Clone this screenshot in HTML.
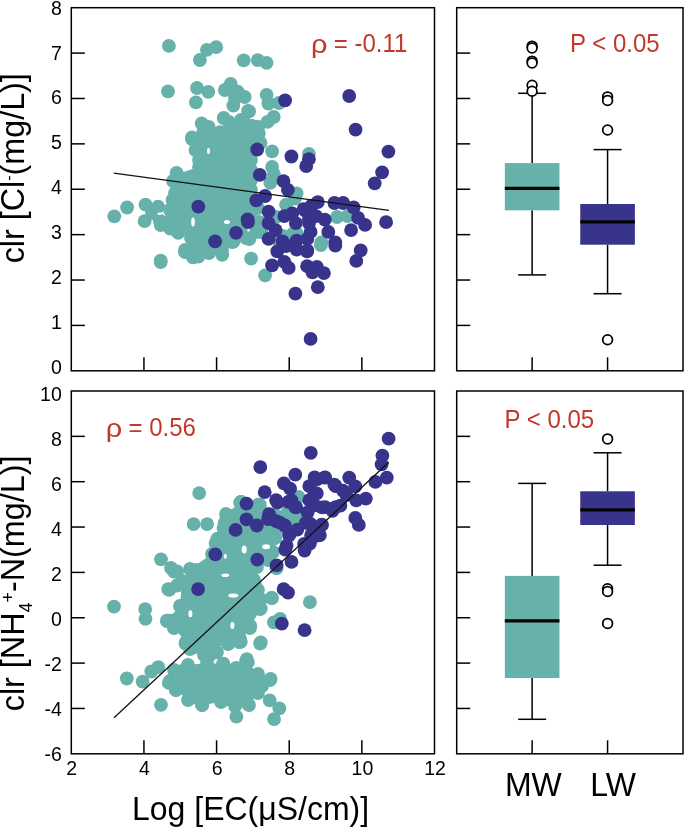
<!DOCTYPE html>
<html><head><meta charset="utf-8"><style>
html,body{margin:0;padding:0;background:#fff;}
body{width:685px;height:828px;overflow:hidden;}
svg{display:block;font-family:"Liberation Sans",sans-serif;will-change:transform;}
</style></head><body>
<svg width="685" height="828" viewBox="0 0 685 828">
<rect width="685" height="828" fill="#fff"/>
<polygon points="192,139 203,133 214,136 222,133 229,122 241,120 248,111 252,126 258,132 253,150 251,160 251,170 251,180 251,190 252,201 250,215 246,238 232,242 222,250 197,248 185,250 191,238 177,230 168,222 177,199 175,193 173,181 177,174 199,167 199,160 195.5,150" fill="#66b1aa"/>
<circle cx="192.0" cy="139.0" r="6.9" fill="#66b1aa"/>
<circle cx="203.0" cy="133.0" r="6.9" fill="#66b1aa"/>
<circle cx="214.0" cy="136.0" r="6.9" fill="#66b1aa"/>
<circle cx="222.0" cy="133.0" r="6.9" fill="#66b1aa"/>
<circle cx="229.0" cy="122.0" r="6.9" fill="#66b1aa"/>
<circle cx="241.0" cy="120.0" r="6.9" fill="#66b1aa"/>
<circle cx="248.0" cy="111.0" r="6.9" fill="#66b1aa"/>
<circle cx="252.0" cy="126.0" r="6.9" fill="#66b1aa"/>
<circle cx="258.0" cy="132.0" r="6.9" fill="#66b1aa"/>
<circle cx="253.0" cy="150.0" r="6.9" fill="#66b1aa"/>
<circle cx="251.0" cy="160.0" r="6.9" fill="#66b1aa"/>
<circle cx="251.0" cy="170.0" r="6.9" fill="#66b1aa"/>
<circle cx="251.0" cy="180.0" r="6.9" fill="#66b1aa"/>
<circle cx="251.0" cy="190.0" r="6.9" fill="#66b1aa"/>
<circle cx="252.0" cy="201.0" r="6.9" fill="#66b1aa"/>
<circle cx="250.0" cy="215.0" r="6.9" fill="#66b1aa"/>
<circle cx="246.0" cy="238.0" r="6.9" fill="#66b1aa"/>
<circle cx="232.0" cy="242.0" r="6.9" fill="#66b1aa"/>
<circle cx="222.0" cy="250.0" r="6.9" fill="#66b1aa"/>
<circle cx="197.0" cy="248.0" r="6.9" fill="#66b1aa"/>
<circle cx="185.0" cy="250.0" r="6.9" fill="#66b1aa"/>
<circle cx="191.0" cy="238.0" r="6.9" fill="#66b1aa"/>
<circle cx="177.0" cy="230.0" r="6.9" fill="#66b1aa"/>
<circle cx="168.0" cy="222.0" r="6.9" fill="#66b1aa"/>
<circle cx="177.0" cy="199.0" r="6.9" fill="#66b1aa"/>
<circle cx="175.0" cy="193.0" r="6.9" fill="#66b1aa"/>
<circle cx="173.0" cy="181.0" r="6.9" fill="#66b1aa"/>
<circle cx="177.0" cy="174.0" r="6.9" fill="#66b1aa"/>
<circle cx="199.0" cy="167.0" r="6.9" fill="#66b1aa"/>
<circle cx="199.0" cy="160.0" r="6.9" fill="#66b1aa"/>
<circle cx="195.5" cy="150.0" r="6.9" fill="#66b1aa"/>
<circle cx="168.9" cy="45.9" r="6.9" fill="#66b1aa"/>
<circle cx="168.0" cy="91.4" r="6.9" fill="#66b1aa"/>
<circle cx="206.9" cy="49.8" r="6.9" fill="#66b1aa"/>
<circle cx="216.2" cy="47.2" r="6.9" fill="#66b1aa"/>
<circle cx="199.9" cy="60.0" r="6.9" fill="#66b1aa"/>
<circle cx="243.7" cy="60.3" r="6.9" fill="#66b1aa"/>
<circle cx="257.8" cy="60.2" r="6.9" fill="#66b1aa"/>
<circle cx="266.6" cy="62.8" r="6.9" fill="#66b1aa"/>
<circle cx="197.0" cy="88.0" r="6.9" fill="#66b1aa"/>
<circle cx="208.3" cy="91.8" r="6.9" fill="#66b1aa"/>
<circle cx="195.9" cy="102.3" r="6.9" fill="#66b1aa"/>
<circle cx="230.7" cy="83.9" r="6.9" fill="#66b1aa"/>
<circle cx="224.9" cy="90.0" r="6.9" fill="#66b1aa"/>
<circle cx="237.7" cy="91.7" r="6.9" fill="#66b1aa"/>
<circle cx="244.7" cy="97.0" r="6.9" fill="#66b1aa"/>
<circle cx="233.3" cy="105.7" r="6.9" fill="#66b1aa"/>
<circle cx="249.1" cy="111.4" r="6.9" fill="#66b1aa"/>
<circle cx="266.6" cy="94.8" r="6.9" fill="#66b1aa"/>
<circle cx="268.4" cy="103.5" r="6.9" fill="#66b1aa"/>
<circle cx="279.0" cy="103.0" r="6.9" fill="#66b1aa"/>
<circle cx="273.7" cy="117.0" r="6.9" fill="#66b1aa"/>
<circle cx="223.7" cy="118.0" r="6.9" fill="#66b1aa"/>
<circle cx="230.7" cy="124.1" r="6.9" fill="#66b1aa"/>
<circle cx="201.7" cy="123.4" r="6.9" fill="#66b1aa"/>
<circle cx="208.7" cy="126.9" r="6.9" fill="#66b1aa"/>
<circle cx="242.9" cy="119.8" r="6.9" fill="#66b1aa"/>
<circle cx="258.2" cy="126.8" r="6.9" fill="#66b1aa"/>
<circle cx="267.5" cy="121.9" r="6.9" fill="#66b1aa"/>
<circle cx="192.0" cy="137.4" r="6.9" fill="#66b1aa"/>
<circle cx="206.1" cy="137.4" r="6.9" fill="#66b1aa"/>
<circle cx="220.1" cy="132.1" r="6.9" fill="#66b1aa"/>
<circle cx="237.6" cy="132.1" r="6.9" fill="#66b1aa"/>
<circle cx="255.1" cy="133.9" r="6.9" fill="#66b1aa"/>
<circle cx="258.8" cy="133.6" r="6.9" fill="#66b1aa"/>
<circle cx="222.0" cy="133.6" r="6.9" fill="#66b1aa"/>
<circle cx="239.5" cy="133.6" r="6.9" fill="#66b1aa"/>
<circle cx="250.0" cy="137.1" r="6.9" fill="#66b1aa"/>
<circle cx="260.5" cy="143.0" r="6.9" fill="#66b1aa"/>
<circle cx="114.3" cy="216.3" r="6.9" fill="#66b1aa"/>
<circle cx="127.1" cy="207.5" r="6.9" fill="#66b1aa"/>
<circle cx="145.5" cy="204.6" r="6.9" fill="#66b1aa"/>
<circle cx="158.1" cy="206.7" r="6.9" fill="#66b1aa"/>
<circle cx="144.6" cy="221.2" r="6.9" fill="#66b1aa"/>
<circle cx="159.8" cy="220.7" r="6.9" fill="#66b1aa"/>
<circle cx="176.5" cy="173.0" r="6.9" fill="#66b1aa"/>
<circle cx="174.7" cy="181.8" r="6.9" fill="#66b1aa"/>
<circle cx="177.3" cy="230.8" r="6.9" fill="#66b1aa"/>
<circle cx="185.2" cy="251.9" r="6.9" fill="#66b1aa"/>
<circle cx="160.7" cy="260.6" r="6.9" fill="#66b1aa"/>
<circle cx="193.1" cy="257.1" r="6.9" fill="#66b1aa"/>
<circle cx="192.2" cy="237.9" r="6.9" fill="#66b1aa"/>
<circle cx="272.1" cy="151.3" r="6.9" fill="#66b1aa"/>
<circle cx="308.9" cy="153.9" r="6.9" fill="#66b1aa"/>
<circle cx="272.1" cy="167.0" r="6.9" fill="#66b1aa"/>
<circle cx="273.8" cy="174.1" r="6.9" fill="#66b1aa"/>
<circle cx="270.3" cy="182.8" r="6.9" fill="#66b1aa"/>
<circle cx="296.6" cy="193.3" r="6.9" fill="#66b1aa"/>
<circle cx="286.1" cy="204.7" r="6.9" fill="#66b1aa"/>
<circle cx="294.9" cy="198.6" r="6.9" fill="#66b1aa"/>
<circle cx="293.1" cy="233.6" r="6.9" fill="#66b1aa"/>
<circle cx="337.0" cy="217.0" r="6.9" fill="#66b1aa"/>
<circle cx="347.6" cy="216.1" r="6.9" fill="#66b1aa"/>
<circle cx="321.3" cy="242.4" r="6.9" fill="#66b1aa"/>
<circle cx="296.8" cy="233.6" r="6.9" fill="#66b1aa"/>
<circle cx="160.7" cy="262.1" r="6.9" fill="#66b1aa"/>
<circle cx="185.2" cy="252.2" r="6.9" fill="#66b1aa"/>
<circle cx="193.1" cy="257.4" r="6.9" fill="#66b1aa"/>
<circle cx="209.8" cy="251.3" r="6.9" fill="#66b1aa"/>
<circle cx="160.7" cy="225.0" r="6.9" fill="#66b1aa"/>
<circle cx="170.3" cy="228.5" r="6.9" fill="#66b1aa"/>
<circle cx="178.2" cy="232.9" r="6.9" fill="#66b1aa"/>
<circle cx="191.4" cy="237.3" r="6.9" fill="#66b1aa"/>
<circle cx="200.1" cy="242.5" r="6.9" fill="#66b1aa"/>
<circle cx="251.1" cy="258.6" r="6.9" fill="#66b1aa"/>
<circle cx="265.1" cy="275.3" r="6.9" fill="#66b1aa"/>
<circle cx="222.2" cy="254.8" r="6.9" fill="#66b1aa"/>
<circle cx="209.0" cy="253.0" r="6.9" fill="#66b1aa"/>
<circle cx="198.5" cy="256.5" r="6.9" fill="#66b1aa"/>
<circle cx="249.3" cy="239.0" r="6.9" fill="#66b1aa"/>
<circle cx="233.5" cy="241.6" r="6.9" fill="#66b1aa"/>
<circle cx="291.4" cy="237.3" r="6.9" fill="#66b1aa"/>
<circle cx="261.6" cy="232.0" r="6.9" fill="#66b1aa"/>
<circle cx="320.9" cy="245.1" r="6.9" fill="#66b1aa"/>
<circle cx="296.8" cy="235.5" r="6.9" fill="#66b1aa"/>
<circle cx="235.0" cy="98.5" r="6.9" fill="#66b1aa"/>
<circle cx="152.0" cy="213.0" r="6.9" fill="#66b1aa"/>
<circle cx="170.0" cy="210.0" r="6.9" fill="#66b1aa"/>
<circle cx="172.5" cy="200.0" r="6.9" fill="#66b1aa"/>
<circle cx="258.0" cy="208.0" r="6.9" fill="#66b1aa"/>
<circle cx="259.0" cy="222.0" r="6.9" fill="#66b1aa"/>
<circle cx="256.0" cy="232.0" r="6.9" fill="#66b1aa"/>
<circle cx="276.0" cy="217.0" r="6.9" fill="#66b1aa"/>
<circle cx="283.0" cy="236.0" r="6.9" fill="#66b1aa"/>
<circle cx="279.0" cy="241.0" r="6.9" fill="#66b1aa"/>
<circle cx="270.0" cy="214.0" r="6.9" fill="#66b1aa"/>
<ellipse cx="159.5" cy="213.8" rx="2.2" ry="1.2" fill="#fff"/>
<ellipse cx="193" cy="222" rx="1.8" ry="4.5" fill="#fff"/>
<ellipse cx="227" cy="222" rx="3" ry="2" fill="#fff"/>
<ellipse cx="208.5" cy="151" rx="1.5" ry="3" fill="#fff"/>
<circle cx="285.1" cy="100.3" r="6.9" fill="#38348c"/>
<circle cx="349.2" cy="96.0" r="6.9" fill="#38348c"/>
<circle cx="355.6" cy="129.6" r="6.9" fill="#38348c"/>
<circle cx="388.4" cy="151.6" r="6.9" fill="#38348c"/>
<circle cx="382.1" cy="172.3" r="6.9" fill="#38348c"/>
<circle cx="374.7" cy="183.3" r="6.9" fill="#38348c"/>
<circle cx="257.2" cy="149.5" r="6.9" fill="#38348c"/>
<circle cx="291.4" cy="156.5" r="6.9" fill="#38348c"/>
<circle cx="308.9" cy="159.2" r="6.9" fill="#38348c"/>
<circle cx="306.2" cy="166.2" r="6.9" fill="#38348c"/>
<circle cx="259.8" cy="174.9" r="6.9" fill="#38348c"/>
<circle cx="283.5" cy="181.1" r="6.9" fill="#38348c"/>
<circle cx="287.9" cy="189.8" r="6.9" fill="#38348c"/>
<circle cx="265.1" cy="196.0" r="6.9" fill="#38348c"/>
<circle cx="256.3" cy="200.3" r="6.9" fill="#38348c"/>
<circle cx="198.3" cy="206.7" r="6.9" fill="#38348c"/>
<circle cx="268.6" cy="211.7" r="6.9" fill="#38348c"/>
<circle cx="247.6" cy="219.5" r="6.9" fill="#38348c"/>
<circle cx="248.0" cy="222.0" r="6.9" fill="#38348c"/>
<circle cx="284.3" cy="216.1" r="6.9" fill="#38348c"/>
<circle cx="292.2" cy="213.5" r="6.9" fill="#38348c"/>
<circle cx="303.6" cy="209.1" r="6.9" fill="#38348c"/>
<circle cx="311.5" cy="205.6" r="6.9" fill="#38348c"/>
<circle cx="268.6" cy="223.1" r="6.9" fill="#38348c"/>
<circle cx="275.6" cy="230.1" r="6.9" fill="#38348c"/>
<circle cx="295.8" cy="223.1" r="6.9" fill="#38348c"/>
<circle cx="308.9" cy="219.6" r="6.9" fill="#38348c"/>
<circle cx="310.6" cy="231.9" r="6.9" fill="#38348c"/>
<circle cx="236.0" cy="232.8" r="6.9" fill="#38348c"/>
<circle cx="215.1" cy="241.3" r="6.9" fill="#38348c"/>
<circle cx="268.6" cy="238.9" r="6.9" fill="#38348c"/>
<circle cx="282.6" cy="241.5" r="6.9" fill="#38348c"/>
<circle cx="296.6" cy="240.6" r="6.9" fill="#38348c"/>
<circle cx="386.1" cy="222.2" r="6.9" fill="#38348c"/>
<circle cx="365.1" cy="224.9" r="6.9" fill="#38348c"/>
<circle cx="358.1" cy="217.9" r="6.9" fill="#38348c"/>
<circle cx="353.7" cy="207.3" r="6.9" fill="#38348c"/>
<circle cx="343.2" cy="203.0" r="6.9" fill="#38348c"/>
<circle cx="334.4" cy="203.0" r="6.9" fill="#38348c"/>
<circle cx="317.8" cy="202.1" r="6.9" fill="#38348c"/>
<circle cx="305.5" cy="210.8" r="6.9" fill="#38348c"/>
<circle cx="316.0" cy="216.1" r="6.9" fill="#38348c"/>
<circle cx="324.8" cy="219.6" r="6.9" fill="#38348c"/>
<circle cx="309.0" cy="223.1" r="6.9" fill="#38348c"/>
<circle cx="328.3" cy="231.9" r="6.9" fill="#38348c"/>
<circle cx="351.1" cy="230.1" r="6.9" fill="#38348c"/>
<circle cx="307.3" cy="238.9" r="6.9" fill="#38348c"/>
<circle cx="335.3" cy="242.4" r="6.9" fill="#38348c"/>
<circle cx="277.3" cy="251.3" r="6.9" fill="#38348c"/>
<circle cx="286.1" cy="246.0" r="6.9" fill="#38348c"/>
<circle cx="296.6" cy="249.5" r="6.9" fill="#38348c"/>
<circle cx="307.1" cy="251.3" r="6.9" fill="#38348c"/>
<circle cx="272.1" cy="265.3" r="6.9" fill="#38348c"/>
<circle cx="284.3" cy="261.8" r="6.9" fill="#38348c"/>
<circle cx="288.7" cy="267.9" r="6.9" fill="#38348c"/>
<circle cx="307.1" cy="266.2" r="6.9" fill="#38348c"/>
<circle cx="312.4" cy="272.3" r="6.9" fill="#38348c"/>
<circle cx="295.4" cy="293.7" r="6.9" fill="#38348c"/>
<circle cx="310.6" cy="338.9" r="6.9" fill="#38348c"/>
<circle cx="317.8" cy="287.2" r="6.9" fill="#38348c"/>
<circle cx="316.9" cy="267.0" r="6.9" fill="#38348c"/>
<circle cx="323.9" cy="273.2" r="6.9" fill="#38348c"/>
<circle cx="335.3" cy="245.7" r="6.9" fill="#38348c"/>
<circle cx="356.3" cy="260.9" r="6.9" fill="#38348c"/>
<circle cx="360.7" cy="250.4" r="6.9" fill="#38348c"/>
<circle cx="307.3" cy="250.4" r="6.9" fill="#38348c"/>
<line x1="113.80" y1="173.10" x2="388.90" y2="210.30" stroke="#111" stroke-width="1.3"/>
<polygon points="226,514 241,502 259,505 288,512 297,518 290,530 275,538 273,552 268,560 257,567 254,580 258,590 272,598 260,609 250,628 239,642 228,644 212,648 209,656 204,655 190,649 186,642 174,628 167,621 180,606 182,581 190,569 212,554 217,540" fill="#66b1aa"/>
<polygon points="174,670 188,665 207,663 223,664 236,668 246,661 258,674 270,680 262,686 258,693 249,705 235,706 221,702 202,705 188,700 176,690 170,681" fill="#66b1aa"/>
<circle cx="226.0" cy="514.0" r="6.9" fill="#66b1aa"/>
<circle cx="241.0" cy="502.0" r="6.9" fill="#66b1aa"/>
<circle cx="259.0" cy="505.0" r="6.9" fill="#66b1aa"/>
<circle cx="288.0" cy="512.0" r="6.9" fill="#66b1aa"/>
<circle cx="297.0" cy="518.0" r="6.9" fill="#66b1aa"/>
<circle cx="290.0" cy="530.0" r="6.9" fill="#66b1aa"/>
<circle cx="275.0" cy="538.0" r="6.9" fill="#66b1aa"/>
<circle cx="273.0" cy="552.0" r="6.9" fill="#66b1aa"/>
<circle cx="268.0" cy="560.0" r="6.9" fill="#66b1aa"/>
<circle cx="257.0" cy="567.0" r="6.9" fill="#66b1aa"/>
<circle cx="254.0" cy="580.0" r="6.9" fill="#66b1aa"/>
<circle cx="258.0" cy="590.0" r="6.9" fill="#66b1aa"/>
<circle cx="272.0" cy="598.0" r="6.9" fill="#66b1aa"/>
<circle cx="260.0" cy="609.0" r="6.9" fill="#66b1aa"/>
<circle cx="250.0" cy="628.0" r="6.9" fill="#66b1aa"/>
<circle cx="239.0" cy="642.0" r="6.9" fill="#66b1aa"/>
<circle cx="228.0" cy="644.0" r="6.9" fill="#66b1aa"/>
<circle cx="212.0" cy="648.0" r="6.9" fill="#66b1aa"/>
<circle cx="209.0" cy="656.0" r="6.9" fill="#66b1aa"/>
<circle cx="204.0" cy="655.0" r="6.9" fill="#66b1aa"/>
<circle cx="190.0" cy="649.0" r="6.9" fill="#66b1aa"/>
<circle cx="186.0" cy="642.0" r="6.9" fill="#66b1aa"/>
<circle cx="174.0" cy="628.0" r="6.9" fill="#66b1aa"/>
<circle cx="167.0" cy="621.0" r="6.9" fill="#66b1aa"/>
<circle cx="180.0" cy="606.0" r="6.9" fill="#66b1aa"/>
<circle cx="182.0" cy="581.0" r="6.9" fill="#66b1aa"/>
<circle cx="190.0" cy="569.0" r="6.9" fill="#66b1aa"/>
<circle cx="212.0" cy="554.0" r="6.9" fill="#66b1aa"/>
<circle cx="217.0" cy="540.0" r="6.9" fill="#66b1aa"/>
<circle cx="174.0" cy="670.0" r="6.9" fill="#66b1aa"/>
<circle cx="188.0" cy="665.0" r="6.9" fill="#66b1aa"/>
<circle cx="207.0" cy="663.0" r="6.9" fill="#66b1aa"/>
<circle cx="223.0" cy="664.0" r="6.9" fill="#66b1aa"/>
<circle cx="236.0" cy="668.0" r="6.9" fill="#66b1aa"/>
<circle cx="246.0" cy="661.0" r="6.9" fill="#66b1aa"/>
<circle cx="258.0" cy="674.0" r="6.9" fill="#66b1aa"/>
<circle cx="270.0" cy="680.0" r="6.9" fill="#66b1aa"/>
<circle cx="262.0" cy="686.0" r="6.9" fill="#66b1aa"/>
<circle cx="258.0" cy="693.0" r="6.9" fill="#66b1aa"/>
<circle cx="249.0" cy="705.0" r="6.9" fill="#66b1aa"/>
<circle cx="235.0" cy="706.0" r="6.9" fill="#66b1aa"/>
<circle cx="221.0" cy="702.0" r="6.9" fill="#66b1aa"/>
<circle cx="202.0" cy="705.0" r="6.9" fill="#66b1aa"/>
<circle cx="188.0" cy="700.0" r="6.9" fill="#66b1aa"/>
<circle cx="176.0" cy="690.0" r="6.9" fill="#66b1aa"/>
<circle cx="170.0" cy="681.0" r="6.9" fill="#66b1aa"/>
<circle cx="114.0" cy="606.6" r="6.9" fill="#66b1aa"/>
<circle cx="145.2" cy="609.2" r="6.9" fill="#66b1aa"/>
<circle cx="145.5" cy="618.8" r="6.9" fill="#66b1aa"/>
<circle cx="161.0" cy="559.3" r="6.9" fill="#66b1aa"/>
<circle cx="171.0" cy="568.0" r="6.9" fill="#66b1aa"/>
<circle cx="177.1" cy="571.5" r="6.9" fill="#66b1aa"/>
<circle cx="182.3" cy="581.2" r="6.9" fill="#66b1aa"/>
<circle cx="169.2" cy="589.9" r="6.9" fill="#66b1aa"/>
<circle cx="177.1" cy="585.5" r="6.9" fill="#66b1aa"/>
<circle cx="196.4" cy="569.8" r="6.9" fill="#66b1aa"/>
<circle cx="215.6" cy="543.5" r="6.9" fill="#66b1aa"/>
<circle cx="170.1" cy="620.6" r="6.9" fill="#66b1aa"/>
<circle cx="180.6" cy="606.6" r="6.9" fill="#66b1aa"/>
<circle cx="185.8" cy="643.4" r="6.9" fill="#66b1aa"/>
<circle cx="177.1" cy="618.8" r="6.9" fill="#66b1aa"/>
<circle cx="199.2" cy="493.1" r="6.9" fill="#66b1aa"/>
<circle cx="193.6" cy="524.1" r="6.9" fill="#66b1aa"/>
<circle cx="207.1" cy="524.1" r="6.9" fill="#66b1aa"/>
<circle cx="242.1" cy="502.7" r="6.9" fill="#66b1aa"/>
<circle cx="229.0" cy="515.8" r="6.9" fill="#66b1aa"/>
<circle cx="224.6" cy="522.9" r="6.9" fill="#66b1aa"/>
<circle cx="217.6" cy="538.6" r="6.9" fill="#66b1aa"/>
<circle cx="241.0" cy="501.8" r="6.9" fill="#66b1aa"/>
<circle cx="295.3" cy="497.4" r="6.9" fill="#66b1aa"/>
<circle cx="258.5" cy="504.5" r="6.9" fill="#66b1aa"/>
<circle cx="228.8" cy="515.8" r="6.9" fill="#66b1aa"/>
<circle cx="297.1" cy="517.6" r="6.9" fill="#66b1aa"/>
<circle cx="288.3" cy="512.3" r="6.9" fill="#66b1aa"/>
<circle cx="223.5" cy="528.1" r="6.9" fill="#66b1aa"/>
<circle cx="260.3" cy="535.1" r="6.9" fill="#66b1aa"/>
<circle cx="272.6" cy="536.9" r="6.9" fill="#66b1aa"/>
<circle cx="246.3" cy="538.6" r="6.9" fill="#66b1aa"/>
<circle cx="227.0" cy="542.1" r="6.9" fill="#66b1aa"/>
<circle cx="309.9" cy="602.2" r="6.9" fill="#66b1aa"/>
<circle cx="276.6" cy="568.0" r="6.9" fill="#66b1aa"/>
<circle cx="271.3" cy="597.8" r="6.9" fill="#66b1aa"/>
<circle cx="260.8" cy="608.3" r="6.9" fill="#66b1aa"/>
<circle cx="273.9" cy="622.3" r="6.9" fill="#66b1aa"/>
<circle cx="280.1" cy="618.8" r="6.9" fill="#66b1aa"/>
<circle cx="250.3" cy="625.8" r="6.9" fill="#66b1aa"/>
<circle cx="260.8" cy="642.5" r="6.9" fill="#66b1aa"/>
<circle cx="246.8" cy="659.1" r="6.9" fill="#66b1aa"/>
<circle cx="217.0" cy="652.1" r="6.9" fill="#66b1aa"/>
<circle cx="239.8" cy="638.1" r="6.9" fill="#66b1aa"/>
<circle cx="227.5" cy="641.6" r="6.9" fill="#66b1aa"/>
<circle cx="255.0" cy="585.0" r="6.9" fill="#66b1aa"/>
<circle cx="126.8" cy="678.5" r="6.9" fill="#66b1aa"/>
<circle cx="142.6" cy="681.7" r="6.9" fill="#66b1aa"/>
<circle cx="151.3" cy="671.5" r="6.9" fill="#66b1aa"/>
<circle cx="158.3" cy="667.2" r="6.9" fill="#66b1aa"/>
<circle cx="161.0" cy="704.8" r="6.9" fill="#66b1aa"/>
<circle cx="168.8" cy="682.9" r="6.9" fill="#66b1aa"/>
<circle cx="175.8" cy="689.9" r="6.9" fill="#66b1aa"/>
<circle cx="177.6" cy="671.5" r="6.9" fill="#66b1aa"/>
<circle cx="186.4" cy="668.0" r="6.9" fill="#66b1aa"/>
<circle cx="185.5" cy="643.5" r="6.9" fill="#66b1aa"/>
<circle cx="195.1" cy="647.0" r="6.9" fill="#66b1aa"/>
<circle cx="191.6" cy="697.8" r="6.9" fill="#66b1aa"/>
<circle cx="202.1" cy="704.8" r="6.9" fill="#66b1aa"/>
<circle cx="198.6" cy="683.8" r="6.9" fill="#66b1aa"/>
<circle cx="260.1" cy="643.5" r="6.9" fill="#66b1aa"/>
<circle cx="236.4" cy="716.7" r="6.9" fill="#66b1aa"/>
<circle cx="274.1" cy="719.2" r="6.9" fill="#66b1aa"/>
<circle cx="279.3" cy="708.3" r="6.9" fill="#66b1aa"/>
<circle cx="269.7" cy="700.4" r="6.9" fill="#66b1aa"/>
<circle cx="270.6" cy="678.9" r="6.9" fill="#66b1aa"/>
<circle cx="247.8" cy="662.4" r="6.9" fill="#66b1aa"/>
<circle cx="223.3" cy="663.7" r="6.9" fill="#66b1aa"/>
<circle cx="216.3" cy="652.3" r="6.9" fill="#66b1aa"/>
<circle cx="202.3" cy="704.8" r="6.9" fill="#66b1aa"/>
<circle cx="225.0" cy="699.6" r="6.9" fill="#66b1aa"/>
<circle cx="244.3" cy="701.3" r="6.9" fill="#66b1aa"/>
<circle cx="255.7" cy="690.8" r="6.9" fill="#66b1aa"/>
<circle cx="261.8" cy="685.5" r="6.9" fill="#66b1aa"/>
<circle cx="228.5" cy="643.5" r="6.9" fill="#66b1aa"/>
<circle cx="240.8" cy="641.8" r="6.9" fill="#66b1aa"/>
<circle cx="298.5" cy="496.9" r="6.9" fill="#66b1aa"/>
<circle cx="296.1" cy="517.9" r="6.9" fill="#66b1aa"/>
<circle cx="275.1" cy="537.7" r="6.9" fill="#66b1aa"/>
<circle cx="272.8" cy="551.8" r="6.9" fill="#66b1aa"/>
<circle cx="276.3" cy="568.1" r="6.9" fill="#66b1aa"/>
<circle cx="240.1" cy="502.7" r="6.9" fill="#66b1aa"/>
<circle cx="259.9" cy="505.0" r="6.9" fill="#66b1aa"/>
<circle cx="174.0" cy="571.7" r="6.9" fill="#66b1aa"/>
<circle cx="168.2" cy="589.2" r="6.9" fill="#66b1aa"/>
<circle cx="167.0" cy="620.7" r="6.9" fill="#66b1aa"/>
<circle cx="174.0" cy="627.7" r="6.9" fill="#66b1aa"/>
<ellipse cx="244.2" cy="549.6" rx="2.5" ry="4" fill="#fff"/>
<ellipse cx="225.3" cy="575.2" rx="4" ry="1.8" fill="#fff"/>
<ellipse cx="266.1" cy="546.7" rx="4" ry="2.5" fill="#fff"/>
<ellipse cx="233.3" cy="595.6" rx="5" ry="2" fill="#fff"/>
<ellipse cx="225.3" cy="556.2" rx="1.5" ry="2.5" fill="#fff"/>
<ellipse cx="190.4" cy="613.7" rx="2" ry="3.5" fill="#fff"/>
<ellipse cx="232.4" cy="625.4" rx="2" ry="3.5" fill="#fff"/>
<circle cx="198.1" cy="589.1" r="6.9" fill="#38348c"/>
<circle cx="215.3" cy="554.4" r="6.9" fill="#38348c"/>
<circle cx="246.5" cy="503.6" r="6.9" fill="#38348c"/>
<circle cx="246.5" cy="519.3" r="6.9" fill="#38348c"/>
<circle cx="235.6" cy="529.9" r="6.9" fill="#38348c"/>
<circle cx="310.8" cy="452.8" r="6.9" fill="#38348c"/>
<circle cx="260.3" cy="467.1" r="6.9" fill="#38348c"/>
<circle cx="295.3" cy="474.7" r="6.9" fill="#38348c"/>
<circle cx="283.9" cy="483.4" r="6.9" fill="#38348c"/>
<circle cx="290.1" cy="488.7" r="6.9" fill="#38348c"/>
<circle cx="264.7" cy="492.2" r="6.9" fill="#38348c"/>
<circle cx="276.1" cy="500.1" r="6.9" fill="#38348c"/>
<circle cx="288.3" cy="501.8" r="6.9" fill="#38348c"/>
<circle cx="295.3" cy="507.1" r="6.9" fill="#38348c"/>
<circle cx="269.1" cy="514.1" r="6.9" fill="#38348c"/>
<circle cx="256.8" cy="525.5" r="6.9" fill="#38348c"/>
<circle cx="276.1" cy="521.1" r="6.9" fill="#38348c"/>
<circle cx="284.8" cy="525.5" r="6.9" fill="#38348c"/>
<circle cx="290.1" cy="533.4" r="6.9" fill="#38348c"/>
<circle cx="286.6" cy="545.6" r="6.9" fill="#38348c"/>
<circle cx="314.6" cy="477.3" r="6.9" fill="#38348c"/>
<circle cx="325.1" cy="477.3" r="6.9" fill="#38348c"/>
<circle cx="309.3" cy="486.1" r="6.9" fill="#38348c"/>
<circle cx="314.6" cy="493.1" r="6.9" fill="#38348c"/>
<circle cx="309.3" cy="500.1" r="6.9" fill="#38348c"/>
<circle cx="314.6" cy="505.3" r="6.9" fill="#38348c"/>
<circle cx="325.1" cy="507.1" r="6.9" fill="#38348c"/>
<circle cx="335.6" cy="486.1" r="6.9" fill="#38348c"/>
<circle cx="335.6" cy="507.1" r="6.9" fill="#38348c"/>
<circle cx="307.6" cy="512.3" r="6.9" fill="#38348c"/>
<circle cx="305.8" cy="522.9" r="6.9" fill="#38348c"/>
<circle cx="321.6" cy="524.6" r="6.9" fill="#38348c"/>
<circle cx="311.1" cy="535.1" r="6.9" fill="#38348c"/>
<circle cx="319.9" cy="535.1" r="6.9" fill="#38348c"/>
<circle cx="304.1" cy="543.9" r="6.9" fill="#38348c"/>
<circle cx="388.6" cy="438.7" r="6.9" fill="#38348c"/>
<circle cx="382.4" cy="455.7" r="6.9" fill="#38348c"/>
<circle cx="381.6" cy="464.4" r="6.9" fill="#38348c"/>
<circle cx="386.8" cy="477.6" r="6.9" fill="#38348c"/>
<circle cx="375.4" cy="481.9" r="6.9" fill="#38348c"/>
<circle cx="349.2" cy="477.6" r="6.9" fill="#38348c"/>
<circle cx="355.3" cy="486.3" r="6.9" fill="#38348c"/>
<circle cx="343.0" cy="490.7" r="6.9" fill="#38348c"/>
<circle cx="334.3" cy="484.6" r="6.9" fill="#38348c"/>
<circle cx="324.6" cy="477.6" r="6.9" fill="#38348c"/>
<circle cx="316.8" cy="479.3" r="6.9" fill="#38348c"/>
<circle cx="316.8" cy="493.3" r="6.9" fill="#38348c"/>
<circle cx="365.8" cy="498.6" r="6.9" fill="#38348c"/>
<circle cx="356.2" cy="500.3" r="6.9" fill="#38348c"/>
<circle cx="340.4" cy="505.6" r="6.9" fill="#38348c"/>
<circle cx="332.5" cy="510.8" r="6.9" fill="#38348c"/>
<circle cx="322.0" cy="507.3" r="6.9" fill="#38348c"/>
<circle cx="355.3" cy="517.9" r="6.9" fill="#38348c"/>
<circle cx="358.8" cy="524.9" r="6.9" fill="#38348c"/>
<circle cx="322.0" cy="524.9" r="6.9" fill="#38348c"/>
<circle cx="318.5" cy="535.4" r="6.9" fill="#38348c"/>
<circle cx="346.5" cy="495.1" r="6.9" fill="#38348c"/>
<circle cx="257.3" cy="559.6" r="6.9" fill="#38348c"/>
<circle cx="276.6" cy="565.4" r="6.9" fill="#38348c"/>
<circle cx="285.3" cy="549.6" r="6.9" fill="#38348c"/>
<circle cx="291.5" cy="561.9" r="6.9" fill="#38348c"/>
<circle cx="304.6" cy="550.5" r="6.9" fill="#38348c"/>
<circle cx="309.9" cy="543.5" r="6.9" fill="#38348c"/>
<circle cx="283.6" cy="589.1" r="6.9" fill="#38348c"/>
<circle cx="288.0" cy="592.6" r="6.9" fill="#38348c"/>
<circle cx="281.8" cy="623.7" r="6.9" fill="#38348c"/>
<circle cx="304.6" cy="630.2" r="6.9" fill="#38348c"/>
<circle cx="268.1" cy="519.0" r="6.9" fill="#38348c"/>
<circle cx="277.4" cy="502.7" r="6.9" fill="#38348c"/>
<circle cx="291.5" cy="500.4" r="6.9" fill="#38348c"/>
<circle cx="296.1" cy="507.4" r="6.9" fill="#38348c"/>
<circle cx="279.8" cy="522.6" r="6.9" fill="#38348c"/>
<circle cx="289.1" cy="535.4" r="6.9" fill="#38348c"/>
<circle cx="297.3" cy="529.6" r="6.9" fill="#38348c"/>
<circle cx="310.2" cy="523.7" r="6.9" fill="#38348c"/>
<circle cx="312.5" cy="537.7" r="6.9" fill="#38348c"/>
<circle cx="317.2" cy="533.1" r="6.9" fill="#38348c"/>
<line x1="114.00" y1="717.80" x2="388.80" y2="462.20" stroke="#111" stroke-width="1.3"/>
<line x1="532.13" y1="93.30" x2="532.13" y2="163.10" stroke="#000" stroke-width="1.5"/>
<line x1="532.13" y1="210.30" x2="532.13" y2="274.90" stroke="#000" stroke-width="1.5"/>
<line x1="518.13" y1="93.30" x2="546.13" y2="93.30" stroke="#000" stroke-width="1.5"/>
<line x1="518.13" y1="274.90" x2="546.13" y2="274.90" stroke="#000" stroke-width="1.5"/>
<rect x="504.83" y="163.10" width="54.60" height="47.20" fill="#66b1aa"/>
<line x1="504.83" y1="188.30" x2="559.43" y2="188.30" stroke="#000" stroke-width="3.3"/>
<circle cx="532.1" cy="46.1" r="4.85" fill="#fff" stroke="#000" stroke-width="1.75"/>
<circle cx="532.1" cy="48.0" r="4.85" fill="#fff" stroke="#000" stroke-width="1.75"/>
<circle cx="532.1" cy="61.1" r="4.85" fill="#fff" stroke="#000" stroke-width="1.75"/>
<circle cx="532.1" cy="63.0" r="4.85" fill="#fff" stroke="#000" stroke-width="1.75"/>
<circle cx="532.1" cy="85.3" r="4.85" fill="#fff" stroke="#000" stroke-width="1.75"/>
<circle cx="532.1" cy="91.2" r="4.85" fill="#fff" stroke="#000" stroke-width="1.75"/>
<line x1="607.57" y1="149.60" x2="607.57" y2="204.00" stroke="#000" stroke-width="1.5"/>
<line x1="607.57" y1="244.70" x2="607.57" y2="293.70" stroke="#000" stroke-width="1.5"/>
<line x1="593.57" y1="149.60" x2="621.57" y2="149.60" stroke="#000" stroke-width="1.5"/>
<line x1="593.57" y1="293.70" x2="621.57" y2="293.70" stroke="#000" stroke-width="1.5"/>
<rect x="580.27" y="204.00" width="54.60" height="40.70" fill="#38348c"/>
<line x1="580.27" y1="221.80" x2="634.87" y2="221.80" stroke="#000" stroke-width="3.3"/>
<circle cx="607.6" cy="96.9" r="4.85" fill="#fff" stroke="#000" stroke-width="1.75"/>
<circle cx="607.6" cy="100.4" r="4.85" fill="#fff" stroke="#000" stroke-width="1.75"/>
<circle cx="607.6" cy="130.0" r="4.85" fill="#fff" stroke="#000" stroke-width="1.75"/>
<circle cx="607.6" cy="339.7" r="4.85" fill="#fff" stroke="#000" stroke-width="1.75"/>
<line x1="532.13" y1="483.40" x2="532.13" y2="575.90" stroke="#000" stroke-width="1.5"/>
<line x1="532.13" y1="678.00" x2="532.13" y2="719.30" stroke="#000" stroke-width="1.5"/>
<line x1="518.13" y1="483.40" x2="546.13" y2="483.40" stroke="#000" stroke-width="1.5"/>
<line x1="518.13" y1="719.30" x2="546.13" y2="719.30" stroke="#000" stroke-width="1.5"/>
<rect x="504.83" y="575.90" width="54.60" height="102.10" fill="#66b1aa"/>
<line x1="504.83" y1="620.90" x2="559.43" y2="620.90" stroke="#000" stroke-width="3.3"/>
<line x1="607.57" y1="452.80" x2="607.57" y2="491.30" stroke="#000" stroke-width="1.5"/>
<line x1="607.57" y1="525.00" x2="607.57" y2="565.20" stroke="#000" stroke-width="1.5"/>
<line x1="593.57" y1="452.80" x2="621.57" y2="452.80" stroke="#000" stroke-width="1.5"/>
<line x1="593.57" y1="565.20" x2="621.57" y2="565.20" stroke="#000" stroke-width="1.5"/>
<rect x="580.27" y="491.30" width="54.60" height="33.70" fill="#38348c"/>
<line x1="580.27" y1="509.80" x2="634.87" y2="509.80" stroke="#000" stroke-width="3.3"/>
<circle cx="607.6" cy="438.9" r="4.85" fill="#fff" stroke="#000" stroke-width="1.75"/>
<circle cx="607.6" cy="588.8" r="4.85" fill="#fff" stroke="#000" stroke-width="1.75"/>
<circle cx="607.6" cy="591.5" r="4.85" fill="#fff" stroke="#000" stroke-width="1.75"/>
<circle cx="607.6" cy="623.4" r="4.85" fill="#fff" stroke="#000" stroke-width="1.75"/>
<rect x="71.3" y="7.7" width="363.20" height="363.10" fill="none" stroke="#000" stroke-width="1.5"/>
<rect x="456.7" y="7.7" width="226.30" height="363.10" fill="none" stroke="#000" stroke-width="1.5"/>
<rect x="71.3" y="391.0" width="363.20" height="362.80" fill="none" stroke="#000" stroke-width="1.5"/>
<rect x="456.7" y="391.0" width="226.30" height="362.80" fill="none" stroke="#000" stroke-width="1.5"/>
<line x1="71.30" y1="325.41" x2="84.80" y2="325.41" stroke="#000" stroke-width="1.5"/>
<line x1="456.70" y1="325.41" x2="470.20" y2="325.41" stroke="#000" stroke-width="1.5"/>
<line x1="71.30" y1="280.03" x2="84.80" y2="280.03" stroke="#000" stroke-width="1.5"/>
<line x1="456.70" y1="280.03" x2="470.20" y2="280.03" stroke="#000" stroke-width="1.5"/>
<line x1="71.30" y1="234.64" x2="84.80" y2="234.64" stroke="#000" stroke-width="1.5"/>
<line x1="456.70" y1="234.64" x2="470.20" y2="234.64" stroke="#000" stroke-width="1.5"/>
<line x1="71.30" y1="189.25" x2="84.80" y2="189.25" stroke="#000" stroke-width="1.5"/>
<line x1="456.70" y1="189.25" x2="470.20" y2="189.25" stroke="#000" stroke-width="1.5"/>
<line x1="71.30" y1="143.86" x2="84.80" y2="143.86" stroke="#000" stroke-width="1.5"/>
<line x1="456.70" y1="143.86" x2="470.20" y2="143.86" stroke="#000" stroke-width="1.5"/>
<line x1="71.30" y1="98.48" x2="84.80" y2="98.48" stroke="#000" stroke-width="1.5"/>
<line x1="456.70" y1="98.48" x2="470.20" y2="98.48" stroke="#000" stroke-width="1.5"/>
<line x1="71.30" y1="53.09" x2="84.80" y2="53.09" stroke="#000" stroke-width="1.5"/>
<line x1="456.70" y1="53.09" x2="470.20" y2="53.09" stroke="#000" stroke-width="1.5"/>
<line x1="71.30" y1="708.45" x2="84.80" y2="708.45" stroke="#000" stroke-width="1.5"/>
<line x1="456.70" y1="708.45" x2="470.20" y2="708.45" stroke="#000" stroke-width="1.5"/>
<line x1="71.30" y1="663.10" x2="84.80" y2="663.10" stroke="#000" stroke-width="1.5"/>
<line x1="456.70" y1="663.10" x2="470.20" y2="663.10" stroke="#000" stroke-width="1.5"/>
<line x1="71.30" y1="617.75" x2="84.80" y2="617.75" stroke="#000" stroke-width="1.5"/>
<line x1="456.70" y1="617.75" x2="470.20" y2="617.75" stroke="#000" stroke-width="1.5"/>
<line x1="71.30" y1="572.40" x2="84.80" y2="572.40" stroke="#000" stroke-width="1.5"/>
<line x1="456.70" y1="572.40" x2="470.20" y2="572.40" stroke="#000" stroke-width="1.5"/>
<line x1="71.30" y1="527.05" x2="84.80" y2="527.05" stroke="#000" stroke-width="1.5"/>
<line x1="456.70" y1="527.05" x2="470.20" y2="527.05" stroke="#000" stroke-width="1.5"/>
<line x1="71.30" y1="481.70" x2="84.80" y2="481.70" stroke="#000" stroke-width="1.5"/>
<line x1="456.70" y1="481.70" x2="470.20" y2="481.70" stroke="#000" stroke-width="1.5"/>
<line x1="71.30" y1="436.35" x2="84.80" y2="436.35" stroke="#000" stroke-width="1.5"/>
<line x1="456.70" y1="436.35" x2="470.20" y2="436.35" stroke="#000" stroke-width="1.5"/>
<line x1="143.94" y1="370.80" x2="143.94" y2="357.30" stroke="#000" stroke-width="1.5"/>
<line x1="143.94" y1="753.80" x2="143.94" y2="740.30" stroke="#000" stroke-width="1.5"/>
<line x1="216.58" y1="370.80" x2="216.58" y2="357.30" stroke="#000" stroke-width="1.5"/>
<line x1="216.58" y1="753.80" x2="216.58" y2="740.30" stroke="#000" stroke-width="1.5"/>
<line x1="289.22" y1="370.80" x2="289.22" y2="357.30" stroke="#000" stroke-width="1.5"/>
<line x1="289.22" y1="753.80" x2="289.22" y2="740.30" stroke="#000" stroke-width="1.5"/>
<line x1="361.86" y1="370.80" x2="361.86" y2="357.30" stroke="#000" stroke-width="1.5"/>
<line x1="361.86" y1="753.80" x2="361.86" y2="740.30" stroke="#000" stroke-width="1.5"/>
<line x1="532.13" y1="370.80" x2="532.13" y2="357.30" stroke="#000" stroke-width="1.5"/>
<line x1="532.13" y1="753.80" x2="532.13" y2="740.30" stroke="#000" stroke-width="1.5"/>
<line x1="607.57" y1="370.80" x2="607.57" y2="357.30" stroke="#000" stroke-width="1.5"/>
<line x1="607.57" y1="753.80" x2="607.57" y2="740.30" stroke="#000" stroke-width="1.5"/>
<text x="61.8" y="373.7" font-size="19.5" text-anchor="end">0</text>
<text x="61.8" y="328.8" font-size="19.5" text-anchor="end">1</text>
<text x="61.8" y="283.9" font-size="19.5" text-anchor="end">2</text>
<text x="61.8" y="239.1" font-size="19.5" text-anchor="end">3</text>
<text x="61.8" y="194.2" font-size="19.5" text-anchor="end">4</text>
<text x="61.8" y="149.3" font-size="19.5" text-anchor="end">5</text>
<text x="61.8" y="104.4" font-size="19.5" text-anchor="end">6</text>
<text x="61.8" y="59.6" font-size="19.5" text-anchor="end">7</text>
<text x="61.8" y="14.7" font-size="19.5" text-anchor="end">8</text>
<text x="61.8" y="760.9" font-size="19.5" text-anchor="end">-6</text>
<text x="61.8" y="715.9" font-size="19.5" text-anchor="end">-4</text>
<text x="61.8" y="671.0" font-size="19.5" text-anchor="end">-2</text>
<text x="61.8" y="626.0" font-size="19.5" text-anchor="end">0</text>
<text x="61.8" y="581.1" font-size="19.5" text-anchor="end">2</text>
<text x="61.8" y="536.1" font-size="19.5" text-anchor="end">4</text>
<text x="61.8" y="491.2" font-size="19.5" text-anchor="end">6</text>
<text x="61.8" y="446.2" font-size="19.5" text-anchor="end">8</text>
<text x="61.8" y="401.3" font-size="19.5" text-anchor="end">10</text>
<text x="71.8" y="775.0" font-size="19.5" text-anchor="middle">2</text>
<text x="144.4" y="775.0" font-size="19.5" text-anchor="middle">4</text>
<text x="217.1" y="775.0" font-size="19.5" text-anchor="middle">6</text>
<text x="289.7" y="775.0" font-size="19.5" text-anchor="middle">8</text>
<text x="362.4" y="775.0" font-size="19.5" text-anchor="middle">10</text>
<text x="435.0" y="775.0" font-size="19.5" text-anchor="middle">12</text>
<text transform="translate(310.9,53) scale(1.115,1)" font-size="26" fill="#c0392b">&#961;</text>
<text transform="translate(105.7,437) scale(1.115,1)" font-size="26" fill="#c0392b">&#961;</text>
<text transform="translate(333.8,52.3) scale(1,1.06)" font-size="24" text-anchor="start" fill="#c0392b">= -0.11</text>
<text transform="translate(128.6,435.7) scale(1,1.06)" font-size="24" text-anchor="start" fill="#c0392b">= 0.56</text>
<text transform="translate(570.0,52.2) scale(1,1.06)" font-size="24" text-anchor="start" fill="#c0392b">P &lt; 0.05</text>
<text transform="translate(504.5,427.9) scale(1,1.06)" font-size="24" text-anchor="start" fill="#c0392b">P &lt; 0.05</text>
<text transform="translate(132,820.2) scale(1,1.05)" font-size="32" text-anchor="start" fill="#000">Log [EC(&#956;S/cm)]</text>
<text transform="translate(533.4,796.0) scale(1,1.05)" font-size="32" text-anchor="middle" fill="#000">MW</text>
<text transform="translate(613.1,796.0) scale(1,1.05)" font-size="32" text-anchor="middle" fill="#000">LW</text>
<text transform="translate(24.3,263.3) rotate(-90)" font-size="32.3">clr [Cl<tspan font-size="16" dy="-10.8">-</tspan><tspan dy="10.8">(mg/L)]</tspan></text>
<text transform="translate(24.3,711.2) rotate(-90)" font-size="32.3">clr [NH<tspan font-size="18" dy="7.7">4</tspan><tspan font-size="18" dy="-18.3">+</tspan><tspan dy="10.6">-N(mg/L)]</tspan></text>
</svg>
</body></html>
